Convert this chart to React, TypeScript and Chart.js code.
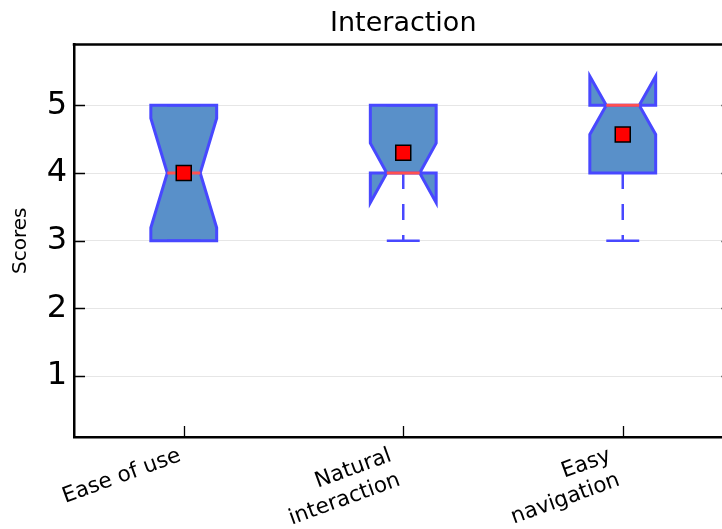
import React, { useEffect, useRef } from "react";
import { Chart, registerables } from "chart.js";

Chart.register(...registerables);

// ---- data ----
const chartTitle = "Interaction";
const yAxisLabel = "Scores";
const categories: string[][] = [["Ease of use"], ["Natural", "interaction"], ["Easy", "navigation"]];
const positions = [1, 2, 3];
const q1 = [3, 4, 4];
const medians = [4, 4, 5];
const q3 = [5, 5, 5];
const whiskerLow = [3, 3, 3];
const whiskerHigh = [5, 5, 5];
const notchLow = [3.19, 3.56, 4.57];
const notchHigh = [4.81, 4.44, 5.43];
const means = [4.0, 4.3, 4.57];
const yTicks = [1, 2, 3, 4, 5];

// ---- style ----
const FONT = "'DejaVu Sans', sans-serif";
const BOX_WIDTH = 0.3;
const BOX_FILL = "#5990c9";
const BOX_EDGE = "#4848ff";
const MEDIAN_COLOR = "#ff5050";
const X_LABEL_SIZE = 21.6;

const boxPlugin = {
  id: "notchedBoxes",
  beforeDatasetsDraw(chart: any) {
    const { ctx, scales } = chart;
    const x = scales.x;
    const y = scales.y;
    const Y = (v: number) => y.getPixelForValue(v);
    ctx.save();
    positions.forEach((p, i) => {
      const L = x.getPixelForValue(p - BOX_WIDTH / 2);
      const R = x.getPixelForValue(p + BOX_WIDTH / 2);
      const wl = x.getPixelForValue(p - BOX_WIDTH / 4);
      const wr = x.getPixelForValue(p + BOX_WIDTH / 4);
      const c = x.getPixelForValue(p);
      // box
      ctx.beginPath();
      ctx.moveTo(L, Y(q1[i]));
      ctx.lineTo(R, Y(q1[i]));
      ctx.lineTo(R, Y(notchLow[i]));
      ctx.lineTo(wr, Y(medians[i]));
      ctx.lineTo(R, Y(notchHigh[i]));
      ctx.lineTo(R, Y(q3[i]));
      ctx.lineTo(L, Y(q3[i]));
      ctx.lineTo(L, Y(notchHigh[i]));
      ctx.lineTo(wl, Y(medians[i]));
      ctx.lineTo(L, Y(notchLow[i]));
      ctx.closePath();
      ctx.fillStyle = BOX_FILL;
      ctx.fill();
      ctx.lineJoin = "miter";
      ctx.lineWidth = 3;
      ctx.strokeStyle = BOX_EDGE;
      ctx.stroke();
      // whiskers
      ctx.setLineDash([16, 15]);
      ctx.lineWidth = 2.5;
      ctx.beginPath();
      ctx.moveTo(c, Y(q1[i]));
      ctx.lineTo(c, Y(whiskerLow[i]));
      ctx.moveTo(c, Y(q3[i]));
      ctx.lineTo(c, Y(whiskerHigh[i]));
      ctx.stroke();
      ctx.setLineDash([]);
      // caps
      ctx.beginPath();
      ctx.moveTo(wl, Y(whiskerLow[i]));
      ctx.lineTo(wr, Y(whiskerLow[i]));
      ctx.moveTo(wl, Y(whiskerHigh[i]));
      ctx.lineTo(wr, Y(whiskerHigh[i]));
      ctx.stroke();
      // median
      ctx.beginPath();
      ctx.strokeStyle = MEDIAN_COLOR;
      ctx.lineWidth = 3;
      ctx.moveTo(wl, Y(medians[i]));
      ctx.lineTo(wr, Y(medians[i]));
      ctx.stroke();
    });
    ctx.restore();
  },
  afterDraw(chart: any) {
    const { ctx, chartArea, scales } = chart;
    const x = scales.x;
    const y = scales.y;
    const { left, right, top, bottom } = chartArea;
    ctx.save();
    // top & right spines
    ctx.strokeStyle = "#000";
    ctx.lineWidth = 2.5;
    ctx.beginPath();
    ctx.moveTo(left - 1.25, top);
    ctx.lineTo(right + 1.25, top);
    ctx.moveTo(right, top);
    ctx.lineTo(right, bottom);
    ctx.stroke();
    // inward ticks
    ctx.lineWidth = 1.3;
    ctx.beginPath();
    yTicks.forEach((v) => {
      const py = Math.round(y.getPixelForValue(v)) + 0.5;
      ctx.moveTo(left, py);
      ctx.lineTo(left + 11, py);
      ctx.moveTo(right, py);
      ctx.lineTo(right - 11, py);
    });
    positions.forEach((p) => {
      const px = Math.round(x.getPixelForValue(p)) + 0.5;
      ctx.moveTo(px, bottom);
      ctx.lineTo(px, bottom - 11);
    });
    ctx.stroke();
    // x tick labels (rotated 20deg, right/top aligned like matplotlib)
    const fs = X_LABEL_SIZE;
    const theta = (20 * Math.PI) / 180;
    const cos = Math.cos(theta);
    const sin = Math.sin(theta);
    ctx.font = `${fs}px ${FONT}`;
    ctx.fillStyle = "#000";
    ctx.textAlign = "right";
    ctx.textBaseline = "alphabetic";
    const pitch = 1.2 * fs;
    const y0 = bottom + 8;
    categories.forEach((lines, i) => {
      const W = Math.max(...lines.map((l) => ctx.measureText(l).width));
      const H = (lines.length - 1) * pitch + 1.0 * fs;
      const corners = [
        [0, 0],
        [W, 0],
        [0, H],
        [W, H],
      ].map(([cx, cy]) => [cx * cos + cy * sin, -cx * sin + cy * cos]);
      const maxX = Math.max(...corners.map((c) => c[0]));
      const minY = Math.min(...corners.map((c) => c[1]));
      const tx = x.getPixelForValue(positions[i]) - maxX;
      const ty = y0 - minY;
      ctx.save();
      ctx.translate(tx, ty);
      ctx.rotate(-theta);
      lines.forEach((line, k) => {
        ctx.fillText(line, W, k * pitch + 0.76 * fs);
      });
      ctx.restore();
    });
    ctx.restore();
  },
};

export default function App() {
  const canvasRef = useRef<HTMLCanvasElement | null>(null);

  useEffect(() => {
    const canvas = canvasRef.current;
    if (!canvas) return;
    const chart = new Chart(canvas, {
      type: "scatter",
      data: {
        datasets: [
          {
            label: "Mean",
            data: means.map((m, i) => ({ x: positions[i], y: m })),
            pointStyle: "rect",
            pointRadius: 10.6,
            backgroundColor: "#ff0000",
            borderColor: "#000000",
            borderWidth: 1.5,
          },
        ],
      },
      options: {
        responsive: false,
        animation: false,
        events: [],
        layout: { padding: { left: 0, right: 74.5, top: 0, bottom: 0 } },
        plugins: {
          legend: { display: false },
          tooltip: { enabled: false },
          title: {
            display: true,
            fullSize: false,
            text: chartTitle,
            color: "#000",
            font: { family: FONT, size: 27, weight: "normal" },
            padding: { top: 8, bottom: 4 },
          },
        },
        scales: {
          x: {
            type: "linear",
            min: 0.5,
            max: 3.5,
            grid: { display: false, drawTicks: false },
            border: { display: true, color: "#000", width: 2.5 },
            ticks: { display: false },
            afterBuildTicks: (s: any) => {
              s.ticks = positions.map((v) => ({ value: v }));
            },
            afterFit: (s: any) => {
              s.height = 92;
            },
          },
          y: {
            type: "linear",
            min: 0.1,
            max: 5.9,
            grid: { color: "#e6e6e6", lineWidth: 1, drawTicks: false },
            border: { display: true, color: "#000", width: 2.5 },
            ticks: { color: "#000", font: { family: FONT, size: 32 }, padding: 7 },
            afterBuildTicks: (s: any) => {
              s.ticks = yTicks.map((v) => ({ value: v }));
            },
            afterFit: (s: any) => {
              s.width = 74;
            },
            title: {
              display: true,
              text: yAxisLabel,
              color: "#000",
              font: { family: FONT, size: 20 },
              padding: { top: 9, bottom: 0 },
            },
          },
        },
      },
      plugins: [boxPlugin],
    } as any);
    return () => chart.destroy();
  }, []);

  return (
    <div
      style={{
        position: "fixed",
        left: 0,
        top: 0,
        width: 722,
        height: 529,
        overflow: "hidden",
        background: "#fff",
      }}
    >
      <canvas ref={canvasRef} width={807} height={529} style={{ display: "block" }} />
    </div>
  );
}
